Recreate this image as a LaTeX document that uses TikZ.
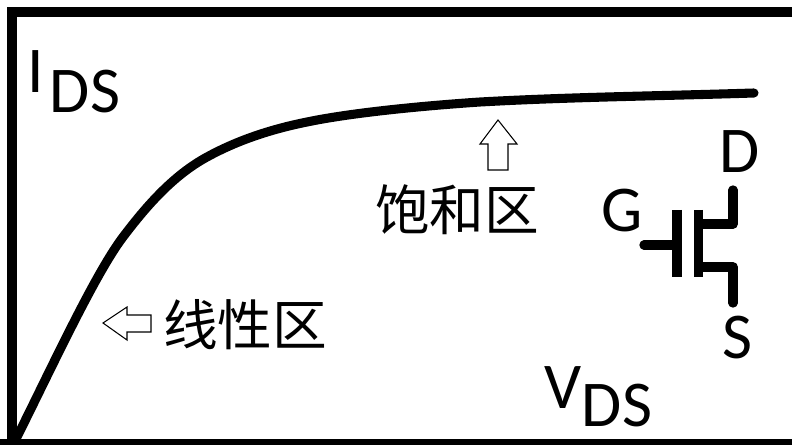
\documentclass[tikz,border=0pt]{standalone}
\usepackage{fontspec}
\setmainfont{Carlito}
\newfontfamily\cjk{Noto Sans CJK SC}
\tikzset{
  px/.style={x=0.75pt,y=-0.75pt},
  frameline/.style={line width=7.5pt,line cap=butt,line join=miter},
  curveline/.style={line width=6.8pt,line cap=round,line join=round},
  fetline/.style={line width=7pt,line cap=round,line join=round},
  fetbar/.style={line width=7.2pt,line cap=butt},
  hollow/.style={draw=black,line width=0.8pt,fill=white,line join=miter},
  lab/.style={font=\fontsize{49}{49}\selectfont,inner sep=0pt,anchor=base,text=black},
  cn/.style={font=\cjk\fontsize{41}{41}\selectfont,inner sep=0pt,text=black},
}
\begin{document}
\begin{tikzpicture}[px]
\useasboundingbox (0,0) rectangle (792,445);
\fill[black] (0,439) rectangle (792,445);
\draw[frameline] (792,12) -- (12,12) -- (12,445);
\draw[curveline] (17,437) .. controls (52,367) and (95,274) .. (123,237)
  .. controls (145,208) and (172,176) .. (207,157)
  .. controls (238,140) and (272,129) .. (307,122)
  .. controls (350,113) and (420,106) .. (480,102)
  .. controls (570,97) and (660,96) .. (754,93);
\draw[hollow] (103,323) -- (127,307) -- (127,315) -- (151,315) -- (151,332) -- (127,332) -- (127,340) -- cycle;
\draw[hollow] (498,120) -- (480,144) -- (488,144) -- (488,170) -- (508,170) -- (508,144) -- (517,144) -- cycle;
\node[cn] (lin) at (245,325) {线性区};
\node[cn] (sat) at (457,210) {饱和区};
\node[lab] (i) at (36,93) {I};
\node[lab] (ds1) at (85,113) {DS};
\node[lab] (v) at (563,408) {V};
\node[lab] (ds2) at (617,426) {DS};
\node[lab] (g) at (622,232) {G};
\node[lab] (d) at (740,173) {D};
\node[lab] (s) at (737,358) {S};
\draw[fetline] (733,190) -- (733,224) -- (703,224);
\draw[fetline] (703,267) -- (733,267) -- (733,303);
\draw[fetline] (644,245) -- (677,245);
\draw[fetbar] (677,210) -- (677,277);
\draw[fetbar] (698.5,210) -- (698.5,277);
\end{tikzpicture}
\end{document}
